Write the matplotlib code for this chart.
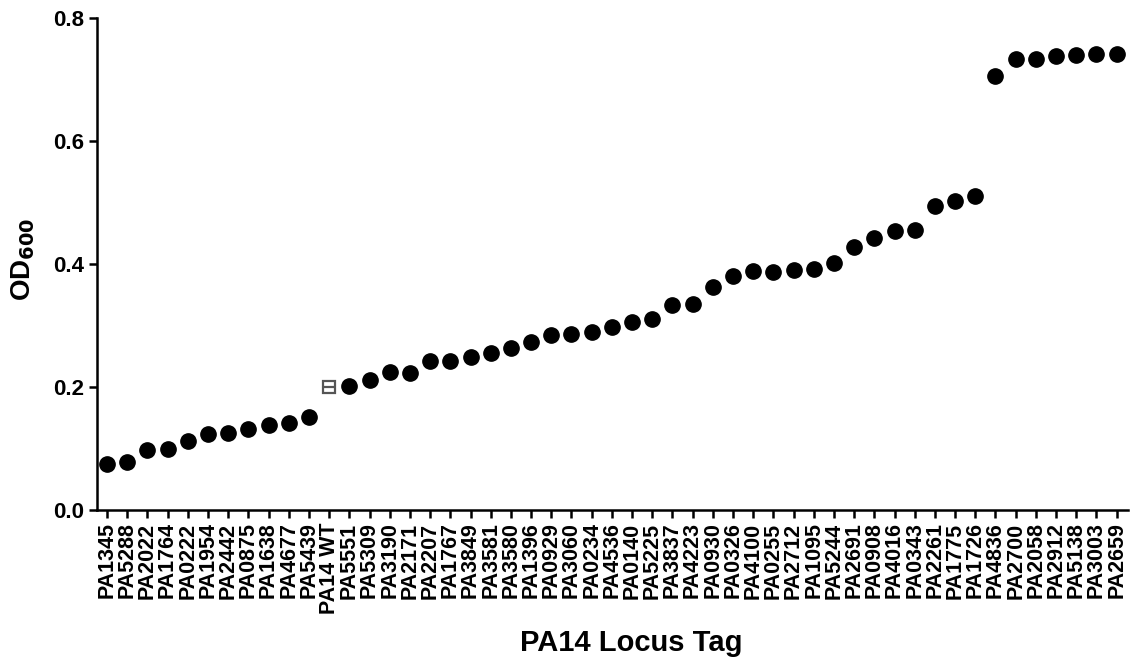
import matplotlib
matplotlib.use("Agg")
import matplotlib.pyplot as plt

plt.rcParams["font.family"] = ["Liberation Sans", "DejaVu Sans"]
plt.rcParams["font.weight"] = "bold"

# Transposon mutants, ordered by growth (OD600); WT control included in the ranking
locus_tags = [
    "PA1345", "PA5288", "PA2022", "PA1764", "PA0222", "PA1954", "PA2442",
    "PA0875", "PA1638", "PA4677", "PA5439", "PA14 WT", "PA5551", "PA5309",
    "PA3190", "PA2171", "PA2207", "PA1767", "PA3849", "PA3581", "PA3580",
    "PA1396", "PA0929", "PA3060", "PA0234", "PA4536", "PA0140", "PA5225",
    "PA3837", "PA4223", "PA0930", "PA0326", "PA4100", "PA0255", "PA2712",
    "PA1095", "PA5244", "PA2691", "PA0908", "PA4016", "PA0343", "PA2261",
    "PA1775", "PA1726", "PA4836", "PA2700", "PA2058", "PA2912", "PA5138",
    "PA3003", "PA2659",
]
od600 = [
    0.075, 0.078, 0.098, 0.099, 0.112, 0.124, 0.125,
    0.132, 0.138, 0.141, 0.151, 0.200, 0.202, 0.211,
    0.224, 0.223, 0.242, 0.242, 0.249, 0.255, 0.263,
    0.273, 0.285, 0.286, 0.289, 0.298, 0.306, 0.311,
    0.333, 0.335, 0.363, 0.380, 0.389, 0.387, 0.390,
    0.392, 0.402, 0.428, 0.442, 0.454, 0.455, 0.494,
    0.502, 0.511, 0.706, 0.733, 0.734, 0.738, 0.740,
    0.741, 0.741,
]
wild_type = "PA14 WT"
y_ticks = [0.0, 0.2, 0.4, 0.6, 0.8]

fig = plt.figure(figsize=(11.3, 6.58), dpi=100)
ax = fig.add_axes([0.0858, 0.225, 0.9122, 0.7476])

x = list(range(len(locus_tags)))
mut_x = [i for i, t in zip(x, locus_tags) if t != wild_type]
mut_y = [v for v, t in zip(od600, locus_tags) if t != wild_type]
wt_x = [i for i, t in zip(x, locus_tags) if t == wild_type]
wt_y = [v for v, t in zip(od600, locus_tags) if t == wild_type]

ax.plot(mut_x, mut_y, linestyle="none", marker="o", markersize=11,
        markerfacecolor="black", markeredgecolor="black", zorder=3)
# wild type: open square split by a horizontal bar
ax.plot(wt_x, wt_y, linestyle="none", marker="s", markersize=9,
        markerfacecolor="white", markeredgecolor="#555555",
        markeredgewidth=1.6, zorder=3)
ax.plot(wt_x, wt_y, linestyle="none", marker="_", markersize=9,
        markeredgecolor="#555555", markeredgewidth=1.6, zorder=4)

ax.set_xlim(-0.5, len(locus_tags) - 0.45)
ax.set_ylim(0, 0.8)
ax.set_xticks(x)
ax.set_xticklabels(locus_tags, rotation=90, fontsize=15.5, fontweight="bold")
ax.set_yticks(y_ticks)
ax.set_yticklabels([f"{v:.1f}" for v in y_ticks], fontsize=16,
                   fontweight="bold")

for side in ("top", "right"):
    ax.spines[side].set_visible(False)
for side in ("left", "bottom"):
    ax.spines[side].set_linewidth(1.8)
ax.tick_params(axis="both", direction="out", length=6, width=1.8,
               color="black", pad=3)

ax.set_xlabel("PA14 Locus Tag", fontsize=21, fontweight="bold")
ax.xaxis.set_label_coords(0.518, -0.242)
ax.set_ylabel("OD$_{\\mathbf{600}}$", fontsize=20, fontweight="bold")
ax.yaxis.set_label_coords(-0.058, 0.51)

fig.savefig("out.png", dpi=100)
